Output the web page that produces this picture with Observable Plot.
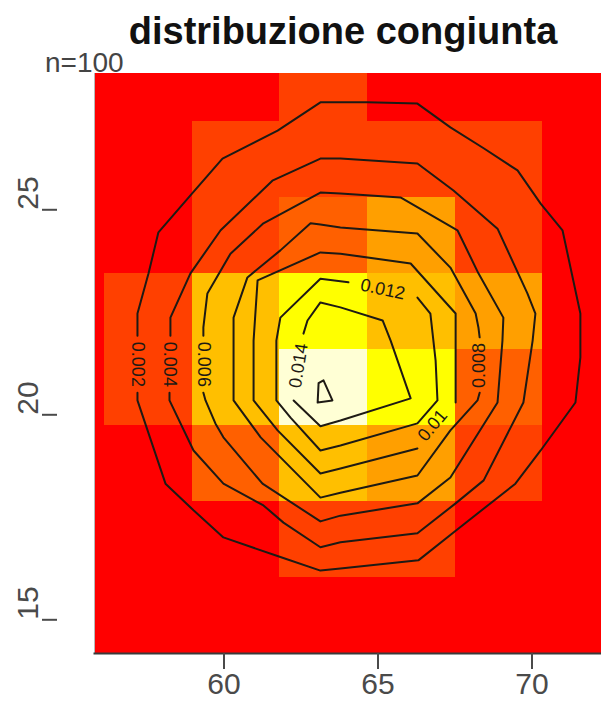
<!DOCTYPE html>
<html>
<head>
<meta charset="utf-8">
<script src="https://cdn.jsdelivr.net/npm/d3@7"></script>
<script src="https://cdn.jsdelivr.net/npm/@observablehq/plot@0.6"></script>
<style>
  body { margin: 0; background: #fff; }
  #wrap { position: relative; width: 601px; height: 704px; overflow: hidden; font-family: "Liberation Sans", Arial, sans-serif; }
  #chart { position: absolute; left: 0; top: 0; }
  #title { position: absolute; left: 343px; top: 12px; transform: translateX(-50%); white-space: nowrap;
           font-weight: bold; font-size: 38px; line-height: 38px; color: #111; }
  #count { position: absolute; left: 45px; top: 49px; font-size: 28px; line-height: 28px; color: #444; }
</style>
</head>
<body>
<div id="wrap">
  <div id="title">distribuzione congiunta</div>
  <div id="count">n=100</div>
  <div id="chart"></div>
</div>
<script>
// Bin edges of the 2D histogram (x: first variable, y: second variable)
const xEdges = [53.275, 56.12, 58.965, 61.81, 64.655, 67.5, 70.345, 73.19];
const yEdges = [14.178, 16.031, 17.884, 19.737, 21.59, 23.443, 25.296, 27.149, 29.002];

// Counts per bin, one row per y bin (bottom to top), one column per x bin
const binCounts = [
  [0, 0, 0, 0, 0, 0, 0],
  [0, 0, 0, 2, 2, 0, 0],
  [0, 0, 3, 6, 5, 2, 0],
  [0, 2, 6, 11, 8, 3, 0],
  [0, 2, 6, 8, 6, 5, 0],
  [0, 0, 2, 3, 5, 2, 0],
  [0, 0, 2, 2, 2, 2, 0],
  [0, 0, 0, 2, 0, 0, 0]
];

// heat.colors(12)
const heatColors = ["#FF0000", "#FF2000", "#FF4000", "#FF6000", "#FF8000", "#FF9F00",
                    "#FFBF00", "#FFDF00", "#FFFF00", "#FFFF2A", "#FFFF80", "#FFFFD5"];

// Density contour lines (open where the level label sits)
const iso002 = [[57.19,20.54],[57.19,20.35],[58.10,18.32],[59.01,17.67],[59.98,17.01],[61.83,16.53],[63.13,16.20],[63.78,16.25],[66.31,16.45],[67.45,17.13],[69.46,18.32],[70.28,19.13],[71.41,20.30],[71.57,21.40],[71.57,22.47],[70.99,24.50],[70.28,25.15],[69.53,25.96],[68.43,26.50],[67.35,27.01],[66.28,27.59],[64.66,27.62],[63.13,27.62],[61.74,26.93],[59.95,26.25],[58.91,25.35],[57.87,24.45],[57.55,23.45],[57.19,22.47],[57.19,21.93]];
const iso004 = [[58.23,20.54],[58.23,20.35],[59.01,19.13],[59.98,18.32],[61.28,17.79],[61.93,17.37],[63.13,16.77],[63.78,16.89],[66.28,17.11],[67.52,17.84],[68.43,18.40],[69.72,20.30],[70.02,21.81],[70.11,22.47],[69.85,22.96],[68.88,24.54],[67.45,25.47],[66.28,26.13],[63.78,26.25],[63.13,26.25],[61.57,25.71],[59.89,24.50],[58.91,23.45],[58.26,22.37],[58.26,21.93]];
const iso006 = [[59.33,20.54],[59.40,20.35],[59.72,19.79],[59.98,19.45],[61.25,18.32],[63.13,17.40],[63.78,17.54],[66.28,17.84],[67.35,18.47],[68.88,20.30],[69.04,21.81],[69.07,22.37],[68.26,23.45],[67.58,24.50],[65.73,25.30],[63.78,25.40],[63.13,25.42],[61.28,24.67],[60.21,23.93],[59.46,22.96],[59.33,22.13],[59.33,21.93]];
const iso008 = [[68.30,21.89],[68.26,22.13],[68.17,22.47],[67.35,23.59],[66.28,24.42],[63.78,24.57],[63.13,24.64],[62.81,24.67],[61.83,24.01],[60.76,23.35],[60.31,22.37],[60.31,20.35],[61.19,19.45],[63.13,17.98],[63.78,18.10],[66.28,18.52],[67.35,19.62],[68.23,20.35],[68.30,20.54]];
const iso010 = [[67.52,20.30],[67.52,21.81],[67.52,22.47],[66.06,23.69],[63.78,23.93],[63.13,23.96],[61.09,23.28],[60.96,21.81],[60.96,20.35],[61.74,19.62],[63.13,18.57],[63.78,18.69],[66.28,19.18]];
const iso012 = [[66.28,22.86],[66.70,22.47],[66.87,21.32],[66.93,20.35],[66.28,19.79],[63.78,19.25],[63.13,19.13],[62.16,19.93],[61.70,20.35],[61.70,21.81],[61.83,22.37],[63.13,23.32],[64.04,23.23]];
const iso014 = [[62.26,20.35],[63.13,19.72],[63.78,19.86],[66.06,20.40],[65.41,21.81],[65.15,22.30],[63.78,22.62],[63.13,22.74],[62.71,22.30],[62.58,21.98]];
const iso016 = [[63.07,20.77],[63.23,20.84],[63.52,20.35],[63.04,20.30],[63.07,20.77]];

// Level labels: text, position and angle along the line
const levelText = ["0.002", "0.004", "0.006", "0.008", "0.01", "0.012", "0.014"];
const levelX    = [57.19, 58.23, 59.33, 68.30, 66.77, 65.15, 62.42];
const levelY    = [21.23, 21.23, 21.23, 21.20, 19.74, 23.06, 21.20];
const levelRot  = [90, 90, 90, -90, -50, 12, -81];

const xTicks = [60, 65, 70];
const yTicks = [15, 20, 25];

const cells = [];
binCounts.forEach((row, j) => row.forEach((count, i) => {
  cells.push({x1: xEdges[i], x2: xEdges[i + 1], y1: yEdges[j], y2: yEdges[j + 1], count});
}));

const contourPoints = [];
[iso002, iso004, iso006, iso008, iso010, iso012, iso014, iso016].forEach((line, k) => {
  line.forEach(([x, y]) => contourPoints.push({x, y, level: k}));
});

const labels = levelText.map((text, i) => ({text, x: levelX[i], y: levelY[i], rot: levelRot[i]}));

const font = "Liberation Sans, Arial, sans-serif";

const chart = Plot.plot({
  width: 601,
  height: 704,
  marginTop: 73,
  marginBottom: 51,
  marginLeft: 94,
  marginRight: 0,
  x: {domain: [55.795, 72.256]},
  y: {domain: [14.178, 28.324]},
  color: {type: "ordinal", domain: d3.range(heatColors.length), range: heatColors},
  style: {fontFamily: font, background: "transparent", overflow: "visible"},
  marks: [
    Plot.rect(cells, {x1: "x1", x2: "x2", y1: "y1", y2: "y2", fill: "count", clip: true, shapeRendering: "crispEdges"}),
    Plot.line(contourPoints, {x: "x", y: "y", z: "level", stroke: "#1e1a14", strokeWidth: 2, curve: "linear", clip: true}),
    Plot.text(labels, {x: "x", y: "y", text: "text", rotate: "rot", fontSize: 18, fill: "#1e1a14"}),
    Plot.frame({anchor: "left", stroke: "#b8b8b8", strokeWidth: 1}),
    Plot.frame({anchor: "bottom", stroke: "#3a3a3a", strokeWidth: 2}),
    Plot.axisX(xTicks, {anchor: "bottom", tickSize: 16, tickPadding: 3, fontSize: 30, color: "#4a4a4a", strokeWidth: 2}),
    Plot.axisY(yTicks, {anchor: "left", tickSize: 15, dx: -37, tickFormat: () => "", color: "#4a4a4a", strokeWidth: 2}),
    Plot.text(yTicks, {y: d => d, frameAnchor: "left", dx: -66, rotate: -90, text: d => String(d), fontSize: 30, fill: "#4a4a4a"})
  ]
});
document.getElementById("chart").appendChild(chart);
</script>
</body>
</html>
